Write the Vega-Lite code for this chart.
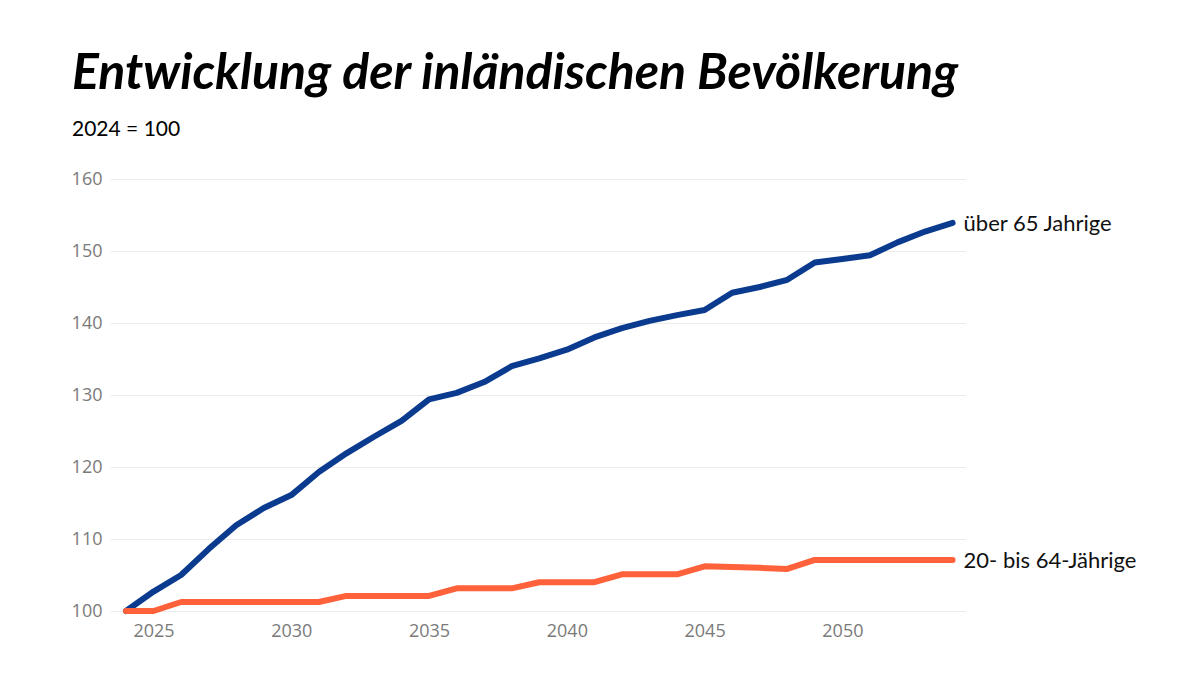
{
  "$schema": "https://vega.github.io/schema/vega-lite/v6.json",
  "width": 855,
  "height": 432,
  "autosize": {"type": "none"},
  "padding": {"left": 110, "top": 179, "right": 235, "bottom": 87},
  "background": "white",
  "title": {
    "text": "Entwicklung der inländischen Bevölkerung",
    "subtitle": "2024 = 100",
    "anchor": "start",
    "frame": "group",
    "dx": -38,
    "font": "Lato",
    "fontSize": 50,
    "fontWeight": "bold",
    "fontStyle": "italic",
    "color": "#000000",
    "subtitleFont": "Lato",
    "subtitleFontSize": 21,
    "subtitleColor": "#000000",
    "subtitlePadding": 20,
    "offset": 30
  },
  "config": {
    "view": {"stroke": null},
    "axis": {"labelFont": "Open Sans", "labelFontSize": 18, "labelColor": "#7a7a7a", "grid": true, "gridColor": "#ebebeb", "gridWidth": 1, "domain": false, "ticks": false, "title": null}
  },
  "data": {
    "values": [
      {"year": 2024, "value": 100.0, "group": "über 65 Jahrige"},
      {"year": 2025, "value": 102.7, "group": "über 65 Jahrige"},
      {"year": 2026, "value": 105.0, "group": "über 65 Jahrige"},
      {"year": 2027, "value": 108.6, "group": "über 65 Jahrige"},
      {"year": 2028, "value": 111.9, "group": "über 65 Jahrige"},
      {"year": 2029, "value": 114.3, "group": "über 65 Jahrige"},
      {"year": 2030, "value": 116.1, "group": "über 65 Jahrige"},
      {"year": 2031, "value": 119.3, "group": "über 65 Jahrige"},
      {"year": 2032, "value": 121.9, "group": "über 65 Jahrige"},
      {"year": 2033, "value": 124.2, "group": "über 65 Jahrige"},
      {"year": 2034, "value": 126.4, "group": "über 65 Jahrige"},
      {"year": 2035, "value": 129.4, "group": "über 65 Jahrige"},
      {"year": 2036, "value": 130.3, "group": "über 65 Jahrige"},
      {"year": 2037, "value": 131.8, "group": "über 65 Jahrige"},
      {"year": 2038, "value": 134.0, "group": "über 65 Jahrige"},
      {"year": 2039, "value": 135.1, "group": "über 65 Jahrige"},
      {"year": 2040, "value": 136.3, "group": "über 65 Jahrige"},
      {"year": 2041, "value": 138.0, "group": "über 65 Jahrige"},
      {"year": 2042, "value": 139.3, "group": "über 65 Jahrige"},
      {"year": 2043, "value": 140.3, "group": "über 65 Jahrige"},
      {"year": 2044, "value": 141.1, "group": "über 65 Jahrige"},
      {"year": 2045, "value": 141.8, "group": "über 65 Jahrige"},
      {"year": 2046, "value": 144.2, "group": "über 65 Jahrige"},
      {"year": 2047, "value": 145.0, "group": "über 65 Jahrige"},
      {"year": 2048, "value": 146.0, "group": "über 65 Jahrige"},
      {"year": 2049, "value": 148.4, "group": "über 65 Jahrige"},
      {"year": 2050, "value": 148.9, "group": "über 65 Jahrige"},
      {"year": 2051, "value": 149.4, "group": "über 65 Jahrige"},
      {"year": 2052, "value": 151.2, "group": "über 65 Jahrige"},
      {"year": 2053, "value": 152.7, "group": "über 65 Jahrige"},
      {"year": 2054, "value": 153.9, "group": "über 65 Jahrige"},
      {"year": 2024, "value": 100.0, "group": "20- bis 64-Jährige"},
      {"year": 2025, "value": 100.0, "group": "20- bis 64-Jährige"},
      {"year": 2026, "value": 101.25, "group": "20- bis 64-Jährige"},
      {"year": 2027, "value": 101.25, "group": "20- bis 64-Jährige"},
      {"year": 2028, "value": 101.25, "group": "20- bis 64-Jährige"},
      {"year": 2029, "value": 101.25, "group": "20- bis 64-Jährige"},
      {"year": 2030, "value": 101.25, "group": "20- bis 64-Jährige"},
      {"year": 2031, "value": 101.25, "group": "20- bis 64-Jährige"},
      {"year": 2032, "value": 102.1, "group": "20- bis 64-Jährige"},
      {"year": 2033, "value": 102.1, "group": "20- bis 64-Jährige"},
      {"year": 2034, "value": 102.1, "group": "20- bis 64-Jährige"},
      {"year": 2035, "value": 102.1, "group": "20- bis 64-Jährige"},
      {"year": 2036, "value": 103.15, "group": "20- bis 64-Jährige"},
      {"year": 2037, "value": 103.15, "group": "20- bis 64-Jährige"},
      {"year": 2038, "value": 103.15, "group": "20- bis 64-Jährige"},
      {"year": 2039, "value": 104.0, "group": "20- bis 64-Jährige"},
      {"year": 2040, "value": 104.0, "group": "20- bis 64-Jährige"},
      {"year": 2041, "value": 104.0, "group": "20- bis 64-Jährige"},
      {"year": 2042, "value": 105.1, "group": "20- bis 64-Jährige"},
      {"year": 2043, "value": 105.1, "group": "20- bis 64-Jährige"},
      {"year": 2044, "value": 105.1, "group": "20- bis 64-Jährige"},
      {"year": 2045, "value": 106.2, "group": "20- bis 64-Jährige"},
      {"year": 2046, "value": 106.1, "group": "20- bis 64-Jährige"},
      {"year": 2047, "value": 106.0, "group": "20- bis 64-Jährige"},
      {"year": 2048, "value": 105.85, "group": "20- bis 64-Jährige"},
      {"year": 2049, "value": 107.1, "group": "20- bis 64-Jährige"},
      {"year": 2050, "value": 107.1, "group": "20- bis 64-Jährige"},
      {"year": 2051, "value": 107.1, "group": "20- bis 64-Jährige"},
      {"year": 2052, "value": 107.1, "group": "20- bis 64-Jährige"},
      {"year": 2053, "value": 107.1, "group": "20- bis 64-Jährige"},
      {"year": 2054, "value": 107.1, "group": "20- bis 64-Jährige"}
    ]
  },
  "encoding": {
    "x": {
      "field": "year",
      "type": "quantitative",
      "scale": {"domain": [2023.42, 2054.45], "nice": false, "zero": false},
      "axis": {"values": [2025, 2030, 2035, 2040, 2045, 2050], "format": "d", "labelPadding": 11, "grid": false}
    },
    "y": {
      "field": "value",
      "type": "quantitative",
      "scale": {"domain": [100, 160], "nice": false, "zero": false},
      "axis": {"values": [100, 110, 120, 130, 140, 150, 160], "labelPadding": 8}
    },
    "color": {
      "field": "group",
      "type": "nominal",
      "scale": {"domain": ["über 65 Jahrige", "20- bis 64-Jährige"], "range": ["#0b3b8f", "#ff623b"]},
      "legend": null
    }
  },
  "layer": [
    {
      "mark": {"type": "line", "strokeWidth": 6, "strokeCap": "round", "strokeJoin": "round"}
    },
    {
      "transform": [{"filter": "datum.year == 2054"}],
      "mark": {"type": "text", "align": "left", "baseline": "middle", "dx": 11, "dy": 1, "font": "Lato", "fontSize": 22, "color": "#111111"},
      "encoding": {
        "text": {"field": "group"},
        "color": {"value": "#111111"}
      }
    }
  ]
}
